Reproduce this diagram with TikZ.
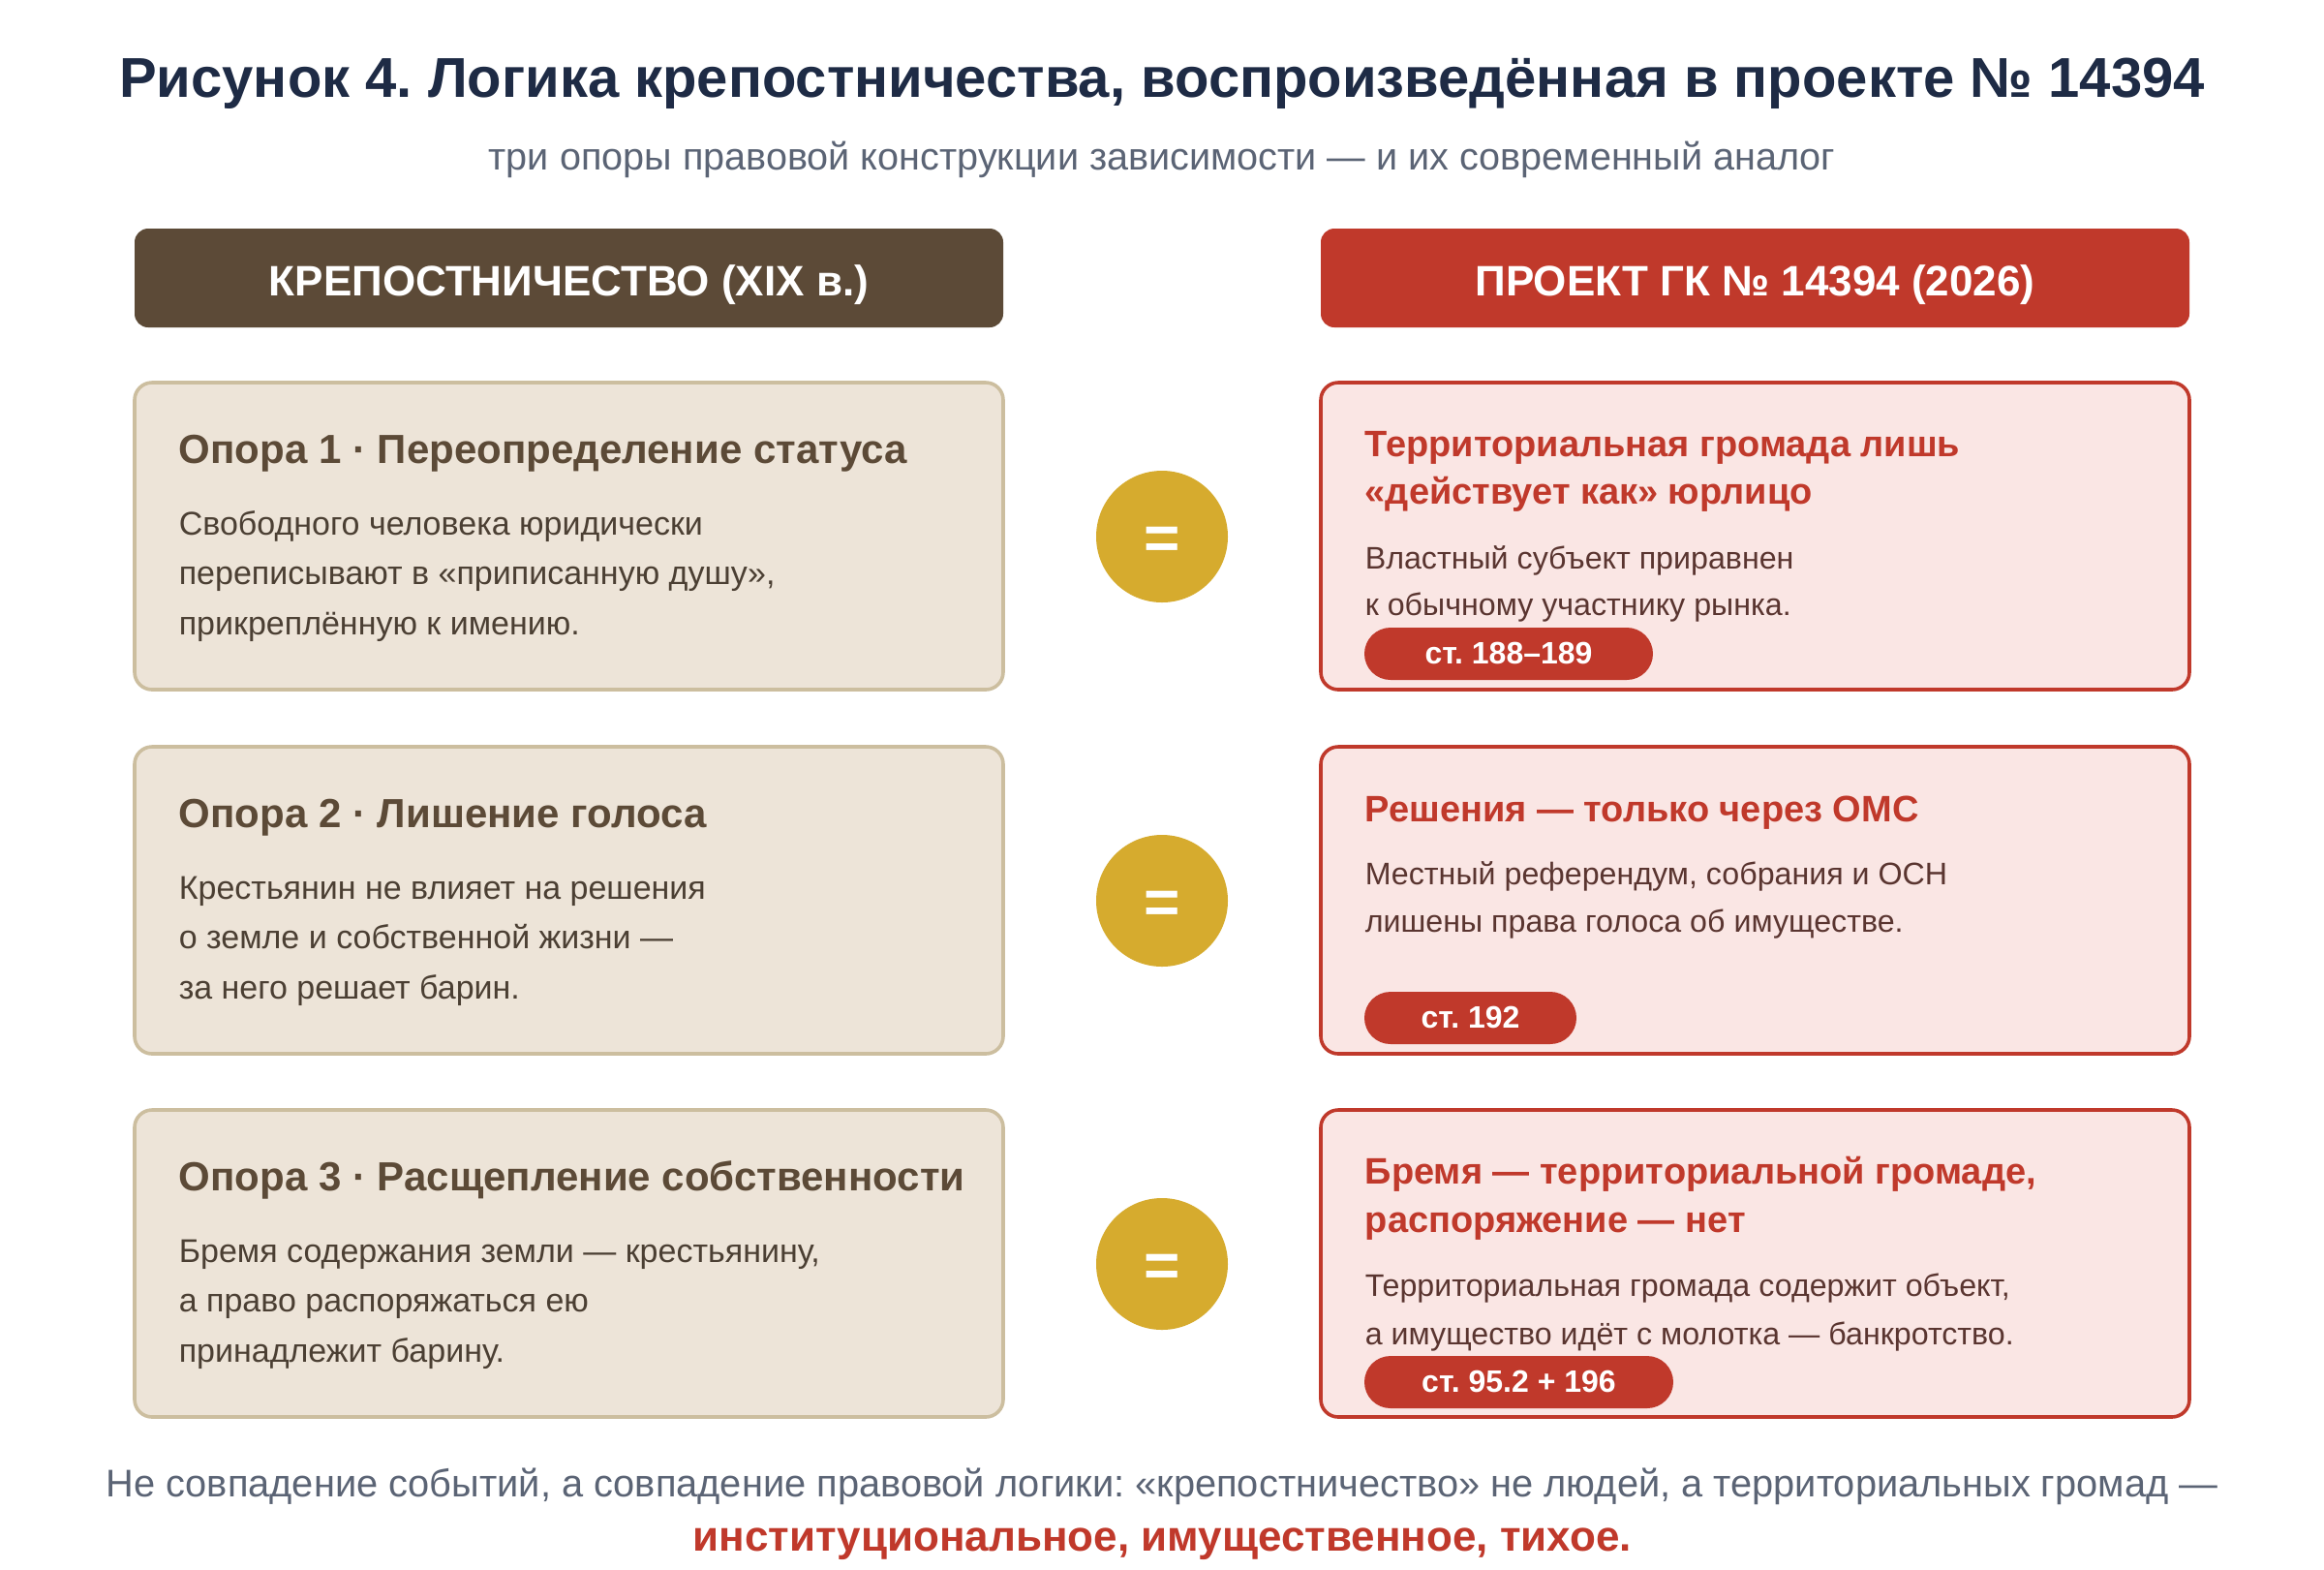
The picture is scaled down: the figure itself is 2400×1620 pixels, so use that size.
\documentclass[tikz,border=0pt]{standalone}
\usepackage{fontspec}
\setmainfont{Liberation Sans}
\frenchspacing

\definecolor{titleblue}{HTML}{1E2B45}
\definecolor{subgray}{HTML}{5B6475}
\definecolor{serfbrown}{HTML}{5C4A37}
\definecolor{serfpaper}{HTML}{EDE4D8}
\definecolor{serfedge}{HTML}{CCBE9F}
\definecolor{serftext}{HTML}{4B3F33}
\definecolor{projred}{HTML}{C0392B}
\definecolor{projpaper}{HTML}{FAE6E4}
\definecolor{projtext}{HTML}{5A3530}
\definecolor{eqgold}{HTML}{D6AB2E}

\newcommand{\fsz}[1]{\fontsize{#1}{1.2\dimexpr#1pt\relax}\selectfont}

\begin{document}
\begin{tikzpicture}[x=0.25pt,y=-0.25pt,
	txt/.style={inner sep=0pt, anchor=base west},
	headbox/.style={rounded corners=3.5pt},
	oldbox/.style={fill=serfpaper, draw=serfedge, line width=0.9pt, rounded corners=4.5pt},
	newbox/.style={fill=projpaper, draw=projred, line width=0.9pt, rounded corners=4.5pt},
	oldhead/.style={txt, font=\fsz{10.5}\bfseries, text=serfbrown},
	oldbody/.style={txt, font=\fsz{8.5}, text=serftext},
	newhead/.style={txt, font=\fsz{9.5}\bfseries, text=projred},
	newbody/.style={txt, font=\fsz{8.05}, text=projtext},
	badge/.style={fill=projred, rounded corners=6.75pt},
	badgetxt/.style={inner sep=0pt, anchor=base, font=\fsz{8}\bfseries, text=white},
	equal/.style={fill=eqgold}
]

% canvas %{{{2

	\fill[white] (0,0) rectangle (2400,1620);
	\useasboundingbox (0,0) rectangle (2400,1620);

% parameters %{{{2

	\def\radius{68}

% title %{{{2

	\node[inner sep=0pt, anchor=base, font=\fsz{14.5}\bfseries, text=titleblue] (title) at (1200,100)
		{Рисунок 4. Логика крепостничества, воспроизведённая в проекте № 14394};
	\node[inner sep=0pt, anchor=base, font=\fsz{9.9}, text=subgray] (subtitle) at (1200,175)
		{три опоры правовой конструкции зависимости — и их современный аналог};

% column heads %{{{2

	\fill[headbox, serfbrown] (139,236) rectangle (1036,338);
	\fill[headbox, projred] (1364,236) rectangle (2261,338);
	\node[inner sep=0pt, anchor=base, font=\fsz{11}\bfseries, text=white] (headold) at (587.5,305)
		{КРЕПОСТНИЧЕСТВО (XIX в.)};
	\node[inner sep=0pt, anchor=base, font=\fsz{11}\bfseries, text=white] (headnew) at (1812.5,305)
		{ПРОЕКТ ГК № 14394 (2026)};

% boxes %{{{2

	\draw[oldbox] (139,395) rectangle (1036,712);
	\draw[oldbox] (139,771) rectangle (1036,1088);
	\draw[oldbox] (139,1146) rectangle (1036,1463);

	\draw[newbox] (1364,395) rectangle (2261,712);
	\draw[newbox] (1364,771) rectangle (2261,1088);
	\draw[newbox] (1364,1146) rectangle (2261,1463);

% equal signs %{{{2

	\foreach \y [count=\i] in {554,930,1305} {
		\fill[equal] (1200,\y) circle (\radius);
		\node[inner sep=0pt, font=\fsz{16}\bfseries, text=white] (eq\i) at (1200,\y+7) {=};
	}

% left column texts %{{{2

	\node[oldhead] (oldA) at (184,478) {Опора 1 · Переопределение статуса};
	\node[oldbody] (oldA1) at (184,552) {Свободного человека юридически};
	\node[oldbody] (oldA2) at (184,603) {переписывают в «приписанную душу»,};
	\node[oldbody] (oldA3) at (184,655) {прикреплённую к имению.};

	\node[oldhead] (oldB) at (184,854) {Опора 2 · Лишение голоса};
	\node[oldbody] (oldB1) at (184,928) {Крестьянин не влияет на решения};
	\node[oldbody] (oldB2) at (184,979) {о земле и собственной жизни —};
	\node[oldbody] (oldB3) at (184,1031) {за него решает барин.};

	\node[oldhead] (oldC) at (184,1229) {Опора 3 · Расщепление собственности};
	\node[oldbody] (oldC1) at (184,1303) {Бремя содержания земли — крестьянину,};
	\node[oldbody] (oldC2) at (184,1354) {а право распоряжаться ею};
	\node[oldbody] (oldC3) at (184,1406) {принадлежит барину.};

% right column texts %{{{2

	\node[newhead] (newA) at (1409,471) {Территориальная громада лишь};
	\node[newhead] (newA0) at (1409,520) {«действует как» юрлицо};
	\node[newbody] (newA1) at (1409,587) {Властный субъект приравнен};
	\node[newbody] (newA2) at (1409,635) {к обычному участнику рынка.};

	\node[newhead] (newB) at (1409,848) {Решения — только через ОМС};
	\node[newbody] (newB1) at (1409,913) {Местный референдум, собрания и ОСН};
	\node[newbody] (newB2) at (1409,962) {лишены права голоса об имуществе.};

	\node[newhead] (newC) at (1409,1222) {Бремя — территориальной громаде,};
	\node[newhead] (newC0) at (1409,1272) {распоряжение — нет};
	\node[newbody] (newC1) at (1409,1338) {Территориальная громада содержит объект,};
	\node[newbody] (newC2) at (1409,1388) {а имущество идёт с молотка — банкротство.};

% badges %{{{2

	\fill[badge] (1409,648) rectangle (1707,702);
	\node[badgetxt] (artA) at (1558,685) {ст. 188–189};

	\fill[badge] (1409,1024) rectangle (1628,1078);
	\node[badgetxt] (artB) at (1518.5,1061) {ст. 192};

	\fill[badge] (1409,1400) rectangle (1728,1454);
	\node[badgetxt] (artC) at (1568.5,1437) {ст. 95.2 + 196};

% footer %{{{2

	\node[inner sep=0pt, anchor=base, font=\fsz{9.95}, text=subgray] (footA) at (1200,1545)
		{Не совпадение событий, а совпадение правовой логики: «крепостничество» не людей, а территориальных громад —};
	\node[inner sep=0pt, anchor=base, font=\fsz{11}\bfseries, text=projred] (footB) at (1200,1601)
		{институциональное, имущественное, тихое.};

% closing %{{{2

\end{tikzpicture}
\end{document}
